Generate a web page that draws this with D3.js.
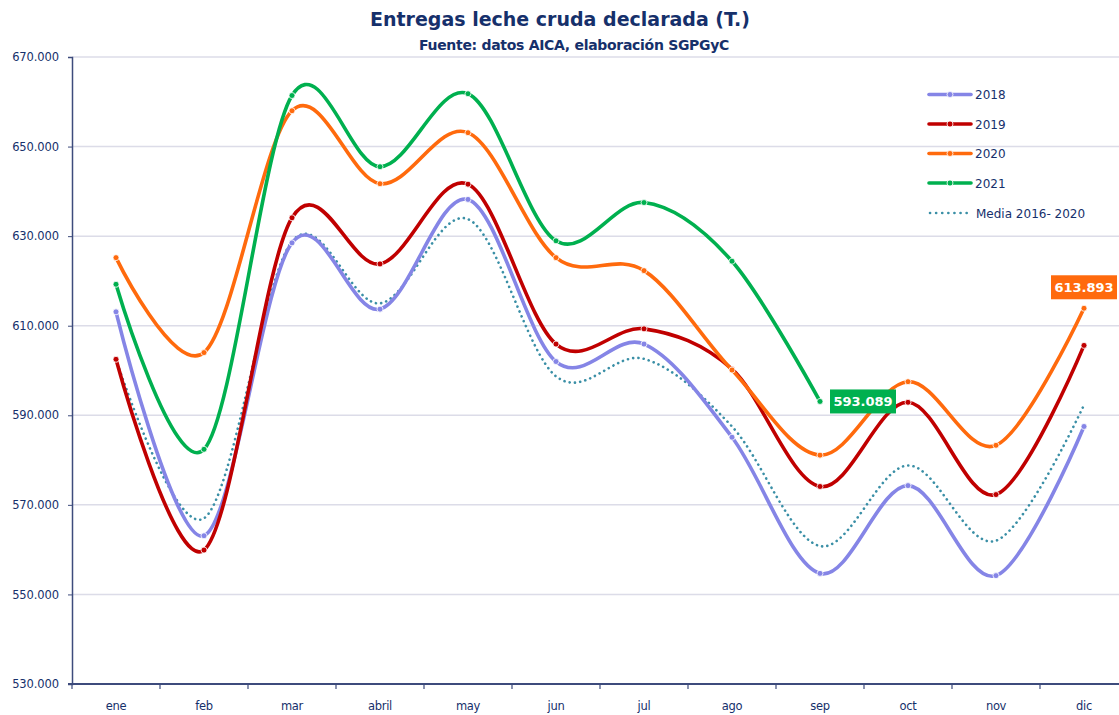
<!DOCTYPE html>
<html>
<head>
<meta charset="utf-8">
<script src="https://cdn.jsdelivr.net/npm/d3@7"></script>
<style>
  body { margin: 0; background: #fff; }
  svg { display: block; font-family: "DejaVu Sans", sans-serif; }
</style>
</head>
<body>
<script>
// months on the x axis
const months = ["ene", "feb", "mar", "abril", "may", "jun", "jul", "ago", "sep", "oct", "nov", "dic"]
// deliveries in tonnes
const v2018 = [613100, 563100, 628500, 613700, 638200, 602000, 605900, 585100, 554700, 574300, 554200, 587500]
const v2019 = [602500, 559900, 634100, 623800, 641600, 605900, 609300, 600300, 574100, 592900, 572300, 605600]
const v2020 = [625200, 604000, 658000, 641700, 653100, 625200, 622300, 600100, 581100, 597500, 583300, 613893]
const v2021 = [619250, 582400, 661400, 645500, 661800, 628960, 637500, 624400, 593089]
const media = [602500, 567000, 628800, 615000, 633800, 598700, 602600, 587500, 560800, 578800, 562000, 592300]
const yTicks = [530000, 550000, 570000, 590000, 610000, 630000, 650000, 670000]

let w = 1119, h = 715
let svg = d3.select("body").append("svg").attr("width", w).attr("height", h)

let navy = "#16306b"
let axisCol = "#3d4b7c"
let fmt = d3.formatLocale({decimal: ",", thousands: ".", grouping: [3], currency: ["", ""]}).format(",d")

let x = d3.scaleBand().domain(months).range([72, 1128]).padding(0)
let cx = m => x(m) + x.bandwidth() / 2
let y = d3.scaleLinear().domain([530000, 670000]).range([684, 57])

// title
svg.append("text").attr("x", 560).attr("y", 26).attr("text-anchor", "middle")
    .attr("font-size", 19).attr("font-weight", "bold").attr("fill", navy)
    .text("Entregas leche cruda declarada (T.)")
svg.append("text").attr("x", 574).attr("y", 50).attr("text-anchor", "middle")
    .attr("font-size", 14).attr("font-weight", "bold").attr("fill", navy).attr("letter-spacing", -0.3)
    .text("Fuente: datos AICA, elaboración SGPGyC")

// grid
svg.append("g").selectAll("line").data(yTicks.slice(1)).enter().append("line")
    .attr("x1", 72).attr("x2", w).attr("y1", d => y(d)).attr("y2", d => y(d))
    .attr("stroke", "#dcdce8").attr("stroke-width", 1.5)

// y axis
let yAxis = d3.axisLeft(y).tickValues(yTicks).tickFormat(fmt).tickSize(4).tickPadding(9)
let gy = svg.append("g").attr("transform", "translate(72,0)").call(yAxis)
gy.select(".domain").attr("stroke", axisCol).attr("stroke-width", 1.5)
gy.selectAll(".tick line").attr("stroke", axisCol)
gy.selectAll("text").attr("font-size", 11.5).attr("fill", navy).attr("letter-spacing", -0.1)
    .attr("font-family", "DejaVu Sans")

// x axis
let xAxis = d3.axisBottom(x).tickSize(0).tickPadding(18)
let gx = svg.append("g").attr("transform", "translate(0,684)").call(xAxis)
gx.select(".domain").remove()
gx.selectAll("text").attr("font-size", 11.5).attr("fill", navy).attr("letter-spacing", -0.3)
    .attr("font-family", "DejaVu Sans")
svg.append("line").attr("x1", 68).attr("x2", w).attr("y1", 684).attr("y2", 684)
    .attr("stroke", axisCol).attr("stroke-width", 2)
svg.append("g").selectAll("line").data(months).enter().append("line")
    .attr("x1", d => x(d)).attr("x2", d => x(d)).attr("y1", 684).attr("y2", 689)
    .attr("stroke", axisCol).attr("stroke-width", 1.2)

// series
let series = [
    {name: "2018", values: v2018, color: "#8585e6"},
    {name: "2019", values: v2019, color: "#c00000"},
    {name: "2020", values: v2020, color: "#ff6a0d"},
    {name: "2021", values: v2021, color: "#00b04f"},
]
let line = d3.line().x((d, i) => cx(months[i])).y(d => y(d)).curve(d3.curveCardinal.tension(0))

svg.append("path").datum(media).attr("d", line).attr("fill", "none")
    .attr("stroke", "#3a8fa6").attr("stroke-width", 2.6).attr("stroke-linecap", "round")
    .attr("stroke-dasharray", "0.1 5.2")

series.forEach(s => {
    svg.append("path").datum(s.values).attr("d", line).attr("fill", "none")
        .attr("stroke", s.color).attr("stroke-width", 3.6)
    svg.append("g").selectAll("circle").data(s.values).enter().append("circle")
        .attr("cx", (d, i) => cx(months[i])).attr("cy", d => y(d)).attr("r", 3)
        .attr("fill", s.color).attr("stroke", "#fff").attr("stroke-width", 0.8)
})

// data labels
let lastG = v2021.length - 1
let lg = svg.append("g").attr("transform", `translate(${cx(months[lastG]) + 10},${y(v2021[lastG]) - 12})`)
lg.append("rect").attr("width", 66).attr("height", 24).attr("fill", "#00b04f")
lg.append("text").attr("x", 33).attr("y", 17).attr("text-anchor", "middle").attr("fill", "#fff")
    .attr("font-size", 13).attr("font-weight", "bold").text(fmt(v2021[lastG]))
let lastO = v2020.length - 1
let lo = svg.append("g").attr("transform", `translate(${cx(months[lastO]) - 33},${y(v2020[lastO]) - 33})`)
lo.append("rect").attr("width", 66).attr("height", 24).attr("fill", "#ff6a0d")
lo.append("text").attr("x", 33).attr("y", 17).attr("text-anchor", "middle").attr("fill", "#fff")
    .attr("font-size", 13).attr("font-weight", "bold").text(fmt(v2020[lastO]))

// legend
let legend = svg.append("g")
series.forEach((s, i) => {
    let ly = 94.5 + i * 29.5
    legend.append("line").attr("x1", 929).attr("x2", 971).attr("y1", ly).attr("y2", ly)
        .attr("stroke", s.color).attr("stroke-width", 3.6).attr("stroke-linecap", "round")
    legend.append("circle").attr("cx", 950).attr("cy", ly).attr("r", 3)
        .attr("fill", s.color).attr("stroke", "#fff").attr("stroke-width", 0.8)
    legend.append("text").attr("x", 975).attr("y", ly + 4.5).attr("font-size", 12).attr("fill", navy).text(s.name)
})
legend.append("line").attr("x1", 930).attr("x2", 970).attr("y1", 213).attr("y2", 213)
    .attr("stroke", "#3a8fa6").attr("stroke-width", 2.6).attr("stroke-linecap", "round")
    .attr("stroke-dasharray", "0.1 6")
legend.append("text").attr("x", 976).attr("y", 217.5).attr("font-size", 12).attr("fill", navy)
    .text("Media 2016- 2020")
</script>
</body>
</html>
